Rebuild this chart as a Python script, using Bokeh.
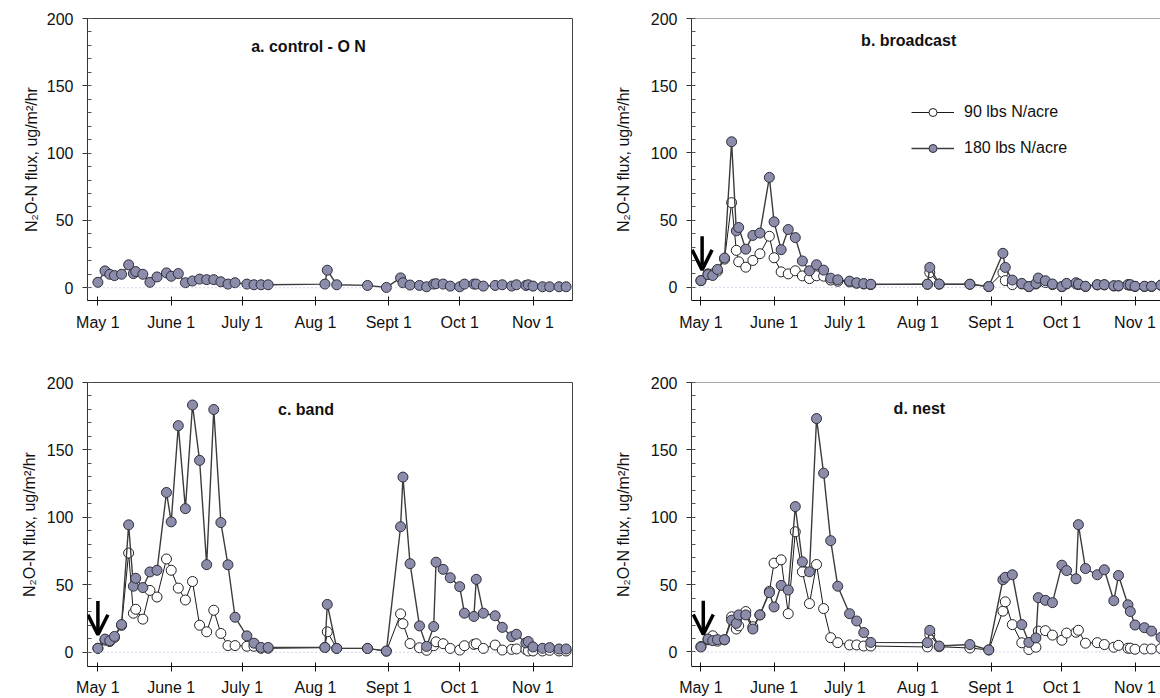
from bokeh.plotting import figure
from bokeh.models import (Range1d, FixedTicker, Span, Label, Arrow, OpenHead,
                          Legend, LegendItem)
from bokeh.layouts import column, row
from bokeh.embed import file_html
from bokeh.resources import INLINE

# ---------------- data ----------------
# sampling days, counted from May 1
DAYS = [0, 3, 5, 7, 10, 13, 15, 16, 19, 22, 25, 29, 31, 34, 37, 40, 43, 46, 49, 52,
        55, 58, 63, 66, 69, 72, 96, 97, 101, 114, 122, 128, 129, 132, 136, 139, 142,
        143, 146, 149, 153, 155, 159, 160, 163, 168, 171, 175, 177, 181, 182, 184,
        188, 191, 195, 198]

MONTH_TICKS = [0, 31, 61, 92, 123, 153, 184]
MONTH_LABELS = ["May 1", "June 1", "July 1", "Aug 1", "Sept 1", "Oct 1", "Nov 1"]
Y_TICKS = [0, 50, 100, 150, 200]
Y_MINOR = list(range(0, 201, 10))

CONTROL = [4, 12.5, 10, 9, 10, 17, 10.5, 12, 10, 4, 8, 11, 8.5, 10.5, 3.7, 5, 6.4, 6, 6,
           4.4, 2.7, 3.7, 2.7, 2.2, 2.2, 2.2, 2.7, 13, 2.2, 1.7, 0.2, 7.3, 3.7, 2, 1.7,
           0.7, 2.7, 3, 2.7, 1.2, 0.7, 2.7, 2.7, 2.7, 1.2, 1.7, 2.2, 1.2, 2.2, 1.7, 2.2,
           1.2, 0.7, 0.7, 0.7, 0.7]

BROADCAST_90 = [5, 10, 10, 12, 21, 63, 27.5, 19, 15, 20, 25, 38, 22, 11.5, 10, 12.3, 8.5,
                6.5, 8.6, 8.3, 5.4, 4.5, 4, 3, 2.5, 2, 2.3, 11, 2.3, 2.3, 0.5, 11, 5, 2,
                2.5, 0.5, 2.5, 4, 3.5, 2, 0.5, 2.5, 2.5, 2, 0.6, 1.8, 1.8, 1, 1, 1.8, 1.5,
                0.6, 0.6, 0.6, 1.5, 1.2]
BROADCAST_180 = [5, 9.5, 8.8, 13.3, 21.8, 108.3, 42, 44.5, 28.4, 38.6, 40.4, 81.8, 48.7,
                 28, 43, 37, 19.6, 12.3, 16.8, 12.8, 6.8, 5.6, 4.6, 3.4, 2.8, 2.3, 2.3,
                 14.8, 2.5, 2.3, 0.6, 25.3, 14.8, 5.4, 2.9, 0.6, 2.9, 6.9, 4.9, 2.5, 0.6,
                 2.9, 3.4, 2.5, 0.8, 2, 2, 1.2, 1.2, 2, 2, 0.8, 0.8, 0.8, 1.7, 1.5]

BAND_90 = [3, 9, 8, 11, 20, 73.6, 29, 31.9, 24.6, 45.9, 41, 69.2, 60.8, 47.6, 38.8, 52.5,
           20.1, 15.2, 31.2, 14, 5, 5, 4.5, 4.5, 3, 3, 3.6, 15.2, 2.9, 2.9, 0.9, 28.5,
           21.2, 6.5, 3.4, 1.5, 4.9, 7.8, 6.4, 2.9, 1.7, 4.9, 5.9, 6.4, 2.9, 5.4, 1.7,
           2.2, 2.5, 2, 1, 1, 1, 1.5, 1, 1]
BAND_180 = [3, 9.8, 8.6, 11.8, 20.6, 94.5, 49, 54.9, 48, 59.6, 60.8, 118.5, 96.7, 168,
            106.5, 183.3, 142.3, 65, 180, 96.2, 64.9, 26, 12.2, 6.8, 3.6, 3.6, 3.6, 35.5,
            2.9, 2.9, 0.9, 93.1, 129.9, 65.7, 19.6, 4.4, 19.1, 66.8, 61.5, 55.3, 48.7, 29,
            26.6, 54.1, 29, 27.1, 18.5, 11.6, 13.4, 7, 8, 4, 3, 3.5, 2.5, 2.5]

NEST_90 = [4, 9, 12, 8, 9, 26.1, 17, 19.4, 30, 18.7, 27.5, 45, 65.9, 68.4, 28.4, 89.2,
           59.5, 35.9, 64.9, 32.2, 10.6, 6.9, 5.2, 5.2, 4.4, 4.4, 3.7, 13, 3.9, 2.9, 1.5,
           30.3, 37.2, 20.3, 6.8, 1.8, 3.5, 15.5, 15.8, 12.5, 8.7, 14, 14.6, 16.1, 6.5,
           6.9, 5.5, 3.5, 4.9, 2.8, 2.8, 2, 2.2, 2.2, 2.5, 2]
NEST_180 = [3.7, 9.6, 8.4, 9.1, 9.1, 23.6, 21.2, 27.5, 27.5, 17, 27.5, 44, 33.4, 49.4, 46,
            107.9, 66.9, 59.5, 173.2, 132.7, 82.6, 48.8, 28.4, 23, 14.4, 7.1, 6.9, 16,
            4.4, 5.5, 1.5, 53.6, 55.4, 57.3, 20.3, 7.1, 10.4, 40.3, 38.3, 36.6, 64.4,
            60.4, 54.3, 94.5, 61.9, 57.3, 61, 38, 56.7, 35, 30, 20, 18, 15.5, 10.8, 8]

LEGEND_LABELS = ["90 lbs N/acre", "180 lbs N/acre"]
Y_LABEL = "N\u2082O-N flux, ug/m\u00b2/hr"

# ---------------- style ----------------
FONT = "Liberation Sans"
FILL_180 = "#8c8cab"
EDGE_180 = "#2e2e3c"
LINE_180 = "#3c3c3c"
LINE_90 = "#1a1a1a"


def make_panel(width, height, bl, br, bt, bb, x_range, y_start, title, title_pos,
               ylab_standoff, xlab_standoff, box_right):
    p = figure(width=width, height=height, output_backend="svg", toolbar_location=None,
               x_range=Range1d(*x_range), y_range=Range1d(y_start, 200),
               min_border_left=bl, min_border_right=br, min_border_top=bt,
               min_border_bottom=bb, background_fill_color="white",
               border_fill_color="white")
    p.xgrid.visible = False
    p.ygrid.visible = False

    xa = p.below[0]
    xa.ticker = FixedTicker(ticks=MONTH_TICKS)
    xa.major_label_overrides = {t: s for t, s in zip(MONTH_TICKS, MONTH_LABELS)}
    xa.axis_line_color = "#111111"
    xa.major_tick_line_color = "#111111"
    xa.major_tick_in = 4
    xa.major_tick_out = 5
    xa.minor_tick_line_color = None
    xa.major_label_text_font = FONT
    xa.major_label_text_font_size = "16px"
    xa.major_label_text_color = "#111111"
    xa.major_label_standoff = xlab_standoff

    ya = p.left[0]
    ya.ticker = FixedTicker(ticks=Y_TICKS, minor_ticks=Y_MINOR)
    ya.axis_line_color = "#333333"
    ya.major_tick_line_color = "#333333"
    ya.major_tick_in = 3
    ya.major_tick_out = 5
    ya.minor_tick_line_color = "#555555"
    ya.minor_tick_in = 4
    ya.minor_tick_out = 0
    ya.major_label_text_font = FONT
    ya.major_label_text_font_size = "16px"
    ya.major_label_text_color = "#111111"
    ya.major_label_standoff = 9
    ya.axis_label = Y_LABEL
    ya.axis_label_text_font = FONT
    ya.axis_label_text_font_size = "16px"
    ya.axis_label_text_font_style = "normal"
    ya.axis_label_text_color = "#111111"
    ya.axis_label_standoff = ylab_standoff

    if box_right:
        p.outline_line_color = "#444444"
        p.outline_line_width = 1
    else:
        # only the top edge of the frame is visible (the right part is cut off)
        p.outline_line_color = None
        p.add_layout(Span(location=200, dimension="width", line_color="#555555",
                          line_width=1))

    p.add_layout(Span(location=0, dimension="width", line_color="#a4a8d4",
                      line_dash="1 3", line_width=1))
    p.add_layout(Label(x=title_pos[0], y=title_pos[1], text=title, text_align="center",
                       text_baseline="middle", text_font=FONT, text_font_style="bold",
                       text_font_size="16px", text_color="#111111"))
    return p


def add_open(p, vals):
    ln = p.line(DAYS, vals, line_color=LINE_90, line_width=1)
    sc = p.scatter(DAYS, vals, marker="circle", size=10, fill_color="white",
                   line_color="#222222", line_width=1)
    return ln, sc


def add_filled(p, vals):
    ln = p.line(DAYS, vals, line_color=LINE_180, line_width=1.4)
    sc = p.scatter(DAYS, vals, marker="circle", size=10, fill_color=FILL_180,
                   line_color=EDGE_180, line_width=1)
    return ln, sc


def add_arrow(p, xpos):
    p.add_layout(Arrow(end=OpenHead(size=20, line_width=3.5, line_color="black"),
                       x_start=xpos, y_start=38, x_end=xpos, y_end=13,
                       line_width=3.5, line_color="black"))


LEFT_X = (-4.4, 200.7)
RIGHT_X = (-4.0, 194.8)

pa = make_panel(611, 370, 87, 39, 18, 66, LEFT_X, -9.5, "a.  control - O N", (90, 179),
                4, 8, True)
add_filled(pa, CONTROL)

pb = make_panel(549, 370, 79, 0, 15, 70, RIGHT_X, -9.8, "b.  broadcast", (89, 184),
                16, 8, False)
lb90, sb90 = add_open(pb, BROADCAST_90)
lb180, sb180 = add_filled(pb, BROADCAST_180)
add_arrow(pb, 0.5)
legend = Legend(items=[LegendItem(label=LEGEND_LABELS[0], renderers=[lb90, sb90]),
                       LegendItem(label=LEGEND_LABELS[1], renderers=[lb180, sb180])],
                location=(220, 142), glyph_width=43, glyph_height=20, label_height=20,
                spacing=16, padding=0, margin=0, label_standoff=10,
                border_line_alpha=0, background_fill_alpha=0,
                label_text_font=FONT, label_text_font_size="16px",
                label_text_color="#111111")
pb.add_layout(legend)

pc = make_panel(611, 328, 87, 39, 10, 32, LEFT_X, -10.5, "c. band", (88, 180),
                6, 7, True)
add_open(pc, BAND_90)
add_filled(pc, BAND_180)
add_arrow(pc, 0)

pd = make_panel(549, 328, 79, 0, 12, 31, RIGHT_X, -10.8, "d. nest", (92.6, 180.5),
                16, 7, False)
add_open(pd, NEST_90)
add_filled(pd, NEST_180)
add_arrow(pd, 1)

layout = column(row(pa, pb), row(pc, pd))

open("out.html", "w").write(file_html(layout, INLINE))
